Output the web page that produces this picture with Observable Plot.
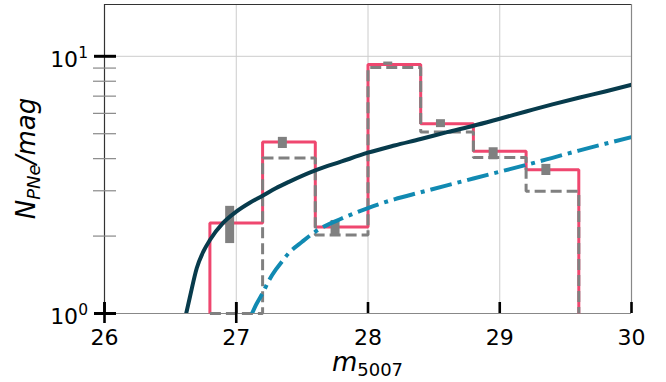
<!DOCTYPE html>
<html><head><meta charset="utf-8">
<script src="https://cdn.jsdelivr.net/npm/d3@7"></script>
<script src="https://cdn.jsdelivr.net/npm/@observablehq/plot@0.6"></script>
<style>html,body{margin:0;padding:0;background:#fff} #chart{width:666px;height:382px;overflow:hidden}</style>
</head><body><div id="chart"></div><script>
// ---- data ----
const binEdges   = [26.8, 27.2, 27.6, 28.0, 28.4, 28.8, 29.2, 29.6];
const pinkCounts = [2.25, 4.64, 2.17, 9.29, 5.47, 4.27, 3.62];
const grayCounts = [0, 4.02, 2.02, 9.04, 5.08, 4.04, 2.99];
const errX    = [26.95, 27.35, 27.75, 28.15, 28.55, 28.95, 29.35];
const errLow  = [1.87, 4.38, 2.01, 9.23, 5.28, 3.96, 3.44];
const errHigh = [2.61, 4.84, 2.30, 9.50, 5.67, 4.41, 3.80];
const lfX = [26.62, 26.65, 26.7, 26.75, 26.8, 26.9, 27.0, 27.1, 27.2, 27.3, 27.4, 27.6, 27.8, 28.0, 28.2, 28.4, 28.6, 28.8, 29.0, 29.2, 29.4, 29.6, 29.8, 30.0];
const lfY = [1.0, 1.17, 1.5, 1.74, 1.93, 2.25, 2.49, 2.69, 2.87, 3.07, 3.25, 3.6, 3.9, 4.22, 4.5, 4.77, 5.07, 5.37, 5.72, 6.1, 6.5, 6.9, 7.3, 7.75];
const lf2X = [27.12, 27.15, 27.2, 27.25, 27.3, 27.35, 27.4, 27.5, 27.6, 27.8, 28.0, 28.2, 28.4, 28.6, 28.8, 29.0, 29.2, 29.4, 29.6, 29.8, 30.0];
const lf2Y = [1.0, 1.08, 1.2, 1.35, 1.48, 1.6, 1.72, 1.9, 2.08, 2.34, 2.57, 2.78, 2.96, 3.15, 3.35, 3.56, 3.78, 4.03, 4.3, 4.57, 4.85];
const xTicks = [26, 27, 28, 29, 30];
const xTicksOut = [26, 27];
const yMajor = [1, 10];
const yMajorExp = ["0", "1"];
const yMinor = [2, 3, 4, 5, 6, 7, 8, 9];
const xDomain = [26, 30];
const yDomain = [1, 15.9];

const PINK = "#ef476f", GRAY = "#808080", NAVY = "#073b4c", BLUE = "#118ab2";
const yFloor = yDomain[0];

function steps(edges, counts) {
  const pts = [{x: edges[0], y: yFloor}];
  counts.forEach((c, i) => pts.push({x: edges[i], y: Math.max(c, yFloor)}));
  pts.push({x: edges[edges.length - 1], y: yFloor});
  return pts;
}
const pinkSteps = steps(binEdges, pinkCounts);
const graySteps = steps(binEdges, grayCounts);
const errData = errX.map((x, i) => ({x, lo: errLow[i], hi: errHigh[i]}));
const navy = lfX.map((x, i) => ({x, y: lfY[i]}));
const blue = lf2X.map((x, i) => ({x, y: lf2Y[i]}));

const chart = Plot.plot({
  width: 666, height: 382,
  marginLeft: 104, marginRight: 35, marginTop: 4, marginBottom: 69,
  x: {domain: xDomain},
  y: {type: "log", domain: yDomain},
  style: {fontFamily: "DejaVu Sans", fontSize: "22px", color: "#000", background: "#fff"},
  marks: [
    Plot.gridX([27, 28, 29], {stroke: "#cccccc", strokeOpacity: 1, strokeWidth: 1}),
    Plot.gridY([10], {stroke: "#cccccc", strokeOpacity: 1, strokeWidth: 1}),
    Plot.ruleY([yDomain[1]], {stroke: "#333", strokeWidth: 1.2}),
    Plot.ruleX([xDomain[1]], {stroke: "#888", strokeWidth: 1.2}),
    Plot.ruleY([yDomain[0]], {stroke: "#888", strokeWidth: 1.2}),
    Plot.ruleX([xDomain[0]], {stroke: "#333", strokeWidth: 1.2}),
    Plot.line(pinkSteps, {x: "x", y: "y", curve: "step-after", stroke: PINK, strokeWidth: 3, strokeLinejoin: "miter", strokeLinecap: "butt"}),
    Plot.line(graySteps, {x: "x", y: "y", curve: "step-after", stroke: GRAY, strokeWidth: 3, strokeDasharray: "11,5", strokeLinejoin: "miter", strokeLinecap: "butt"}),
    Plot.ruleX(errData, {x: "x", y1: "lo", y2: "hi", stroke: GRAY, strokeWidth: 9}),
    Plot.line(navy, {x: "x", y: "y", curve: "monotone-x", stroke: NAVY, strokeWidth: 4, clip: true}),
    Plot.line(blue, {x: "x", y: "y", curve: "monotone-x", stroke: BLUE, strokeWidth: 4, strokeDasharray: "22,6,4,6", strokeLinecap: "butt", clip: true}),
    // x ticks (inward), and the two that also cross outward
    Plot.axisX({ticks: xTicks, tickSize: 11, dy: -11, text: null, label: null, stroke: "#000", strokeWidth: 2.6}),
    Plot.axisX({ticks: xTicksOut, tickSize: 21, dy: -11, text: null, label: null, stroke: "#000", strokeWidth: 2.6}),
    Plot.axisX({ticks: xTicks, tickSize: 0, tickPadding: 16, tickFormat: d => String(d), label: null, fontSize: 22}),
    // y ticks
    Plot.axisY({ticks: yMinor, tickSize: 23, dx: 12, text: null, label: null, stroke: "#888", strokeWidth: 1.2}),
    Plot.axisY({ticks: yMajor, tickSize: 22, dx: 12, text: null, label: null, stroke: "#000", strokeWidth: 3})
  ]
});
document.getElementById("chart").appendChild(chart);

const svg = d3.select(chart);
const xs = chart.scale("x"), ys = chart.scale("y");
const cx = (xs.apply(xDomain[0]) + xs.apply(xDomain[1])) / 2;
const cy = (ys.apply(yDomain[0]) + ys.apply(yDomain[1])) / 2;
const left = xs.apply(xDomain[0]);

// y tick labels as 10 with superscript exponent
yMajor.forEach((v, i) => {
  const t = svg.append("text").attr("x", left - 16).attr("y", ys.apply(v) + 11).attr("text-anchor", "end")
    .style("font-family", "DejaVu Sans").style("font-size", "22px").attr("fill", "#000");
  t.append("tspan").text("10");
  t.append("tspan").style("font-size", "15.5px").attr("dy", -9).text(yMajorExp[i]);
});

const xl = svg.append("text").attr("x", cx).attr("y", 371).attr("text-anchor", "middle")
  .style("font-family", "DejaVu Sans").style("font-size", "26px").attr("fill", "#000");
xl.append("tspan").style("font-style", "italic").text("m");
xl.append("tspan").style("font-size", "18px").attr("dy", 5).text("5007");

const yl = svg.append("text").attr("transform", `translate(35,${cy}) rotate(-90)`).attr("text-anchor", "middle")
  .style("font-family", "DejaVu Sans").style("font-size", "26px").style("font-style", "italic").attr("fill", "#000");
yl.append("tspan").text("N");
yl.append("tspan").style("font-size", "18px").attr("dy", 5).text("PNe");
yl.append("tspan").attr("dy", -5).text("/mag");
</script></body></html>
